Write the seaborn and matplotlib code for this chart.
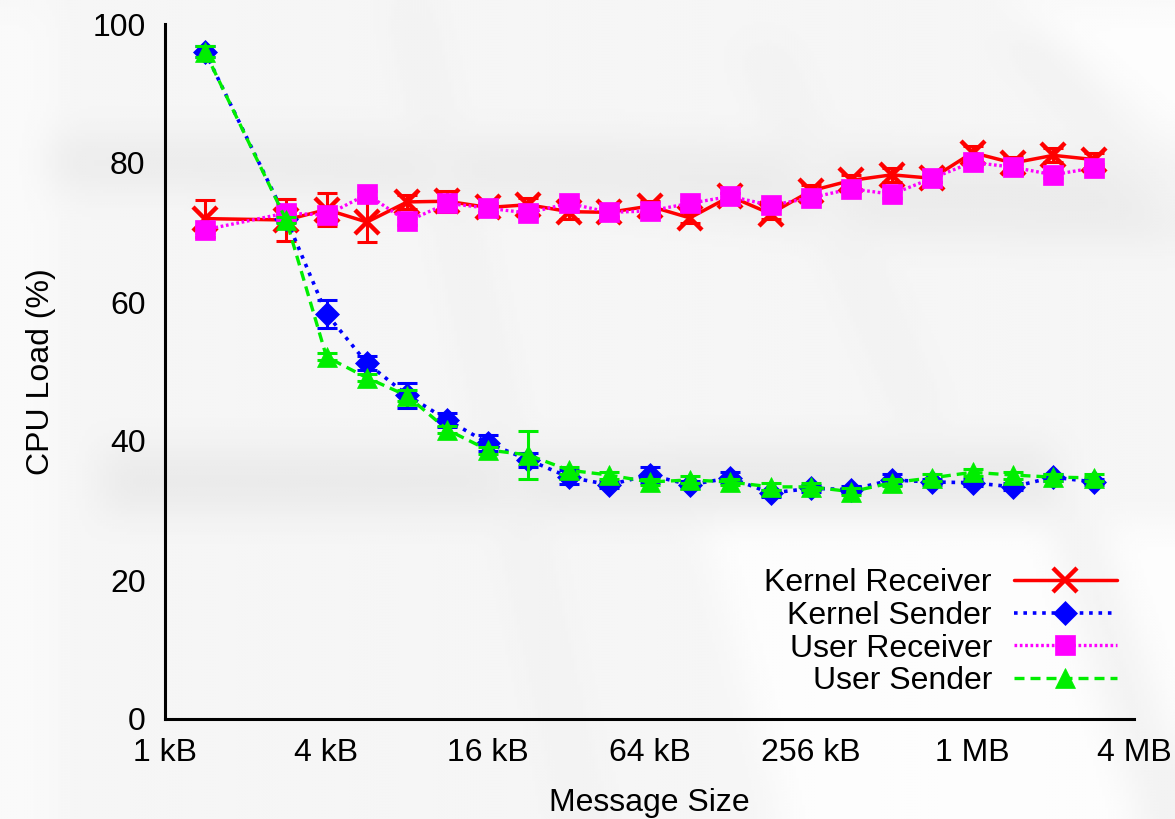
import numpy as np
import matplotlib
matplotlib.use('Agg')
import matplotlib.pyplot as plt
import seaborn as sns
from matplotlib.lines import Line2D
from matplotlib.path import Path

# message sizes in kB (points sit on half powers of two)
size_kb = [1.41, 2.83, 4, 5.66, 8, 11.3, 16, 22.6, 32, 45.3, 64, 90.5,
           128, 181, 256, 362, 512, 724, 1024, 1448, 2048, 2896]

kernel_recv = [72.0, 71.8, 73.3, 71.5, 74.4, 74.5, 73.6, 74.0, 73.0, 72.9, 73.8, 72.1,
               75.2, 72.7, 76.0, 77.5, 78.3, 77.8, 81.5, 80.0, 81.1, 80.5]
kernel_recv_err = [2.7, 3.0, 2.4, 2.9, 1.0, 1.5, 0.6, 1.0, 1.0, 0.6, 0.8, 0.8,
                   0.5, 0.8, 0.8, 0.8, 1.0, 0.5, 1.0, 0.8, 1.0, 1.0]

kernel_send = [96.0, 72.0, 58.3, 51.2, 46.6, 43.0, 39.7, 37.3, 34.8, 33.7, 35.1, 33.7,
               34.7, 32.5, 33.2, 33.0, 34.4, 34.1, 34.0, 33.4, 34.8, 34.1]
kernel_send_err = [0.8, 0.5, 2.0, 1.0, 1.8, 1.0, 1.2, 1.0, 1.0, 0.5, 1.2, 0.5,
                   0.8, 0.5, 0.5, 0.5, 0.8, 0.5, 0.5, 0.5, 0.5, 0.5]

user_recv = [70.4, 72.8, 72.5, 75.5, 71.6, 74.2, 73.5, 72.8, 74.2, 72.9, 73.1, 74.2,
             75.2, 73.9, 75.0, 76.3, 75.5, 77.8, 80.1, 79.4, 78.3, 79.3]
user_recv_err = [0.5] * 22

user_send = [96.0, 71.8, 52.1, 49.1, 46.5, 41.6, 38.7, 38.0, 35.8, 35.1, 34.1, 34.4,
             34.1, 33.4, 33.4, 32.7, 34.0, 34.7, 35.5, 35.1, 34.8, 34.7]
user_send_err = [0.8, 0.5, 0.5, 0.5, 0.8, 0.5, 0.5, 3.5, 0.5, 0.5, 0.5, 0.5,
                 0.5, 0.5, 0.5, 0.5, 0.5, 0.5, 0.5, 0.5, 0.5, 0.5]

tick_kb = [1, 4, 16, 64, 256, 1024, 4096]
tick_labels = ['1 kB', '4 kB', '16 kB', '64 kB', '256 kB', '1 MB', '4 MB']

sns.set_style("white")
plt.rcParams['font.family'] = ['Liberation Sans', 'DejaVu Sans']
plt.rcParams['text.color'] = 'black'
plt.rcParams['axes.labelcolor'] = 'black'

W, H = 1175, 819
fig = plt.figure(figsize=(W / 100, H / 100), dpi=100)

# --- soft grey backdrop (the watermark-like shapes behind the plot) ---
step = 3
yy, xx = np.mgrid[0:H:step, 0:W:step]
pts = np.column_stack([xx.ravel(), yy.ravel()])
bg = np.full(xx.shape, 0.962)


def shade(poly, level):
    m = Path(poly).contains_points(pts).reshape(xx.shape)
    bg[m] = level


shade([(0, 0), (55, 0), (55, 819), (0, 819)], 0.978)
shade([(990, 0), (1175, 0), (1175, 140), (1060, 40)], 0.99)
shade([(700, 520), (1175, 520), (1175, 819), (780, 819)], 0.99)
shade([(50, 135), (600, 140), (1160, 160), (1175, 240), (900, 235), (600, 200), (50, 185)], 0.925)
shade([(100, 450), (1050, 445), (1060, 510), (100, 510)], 0.92)
shade([(395, 0), (420, 0), (595, 819), (570, 819)], 0.94)
shade([(740, 45), (780, 45), (940, 420), (905, 420)], 0.945)
shade([(995, 30), (1035, 30), (1175, 205), (1175, 240)], 0.945)
shade([(1050, 520), (1095, 520), (1175, 760), (1175, 819), (1140, 819)], 0.95)

k = 13
kern = np.ones(k) / k
for _ in range(2):
    p = np.pad(bg, ((0, 0), (k // 2, k // 2)), mode='edge')
    bg = np.apply_along_axis(lambda r: np.convolve(r, kern, mode='valid'), 1, p)
    p = np.pad(bg, ((k // 2, k // 2), (0, 0)), mode='edge')
    bg = np.apply_along_axis(lambda c: np.convolve(c, kern, mode='valid'), 0, p)

ax_bg = fig.add_axes([0, 0, 1, 1], zorder=0)
ax_bg.imshow(bg, cmap='gray', vmin=0, vmax=1, extent=(0, W, H, 0),
             aspect='auto', interpolation='bilinear')
ax_bg.axis('off')

# --- main plot ---
left, right, bottom, top = 165 / W, 1134 / W, 1 - 719 / H, 1 - 24 / H
ax = fig.add_axes([left, bottom, right - left, top - bottom], zorder=1)
ax.patch.set_visible(False)

series = [
    ('Kernel Receiver', kernel_recv, kernel_recv_err, '#ff0000', '-', 'x', 17, 2.5),
    ('Kernel Sender', kernel_send, kernel_send_err, '#0000ff', (0, (1, 1.6)), 'D', 12, 2.6),
    ('User Receiver', user_recv, user_recv_err, '#ff00ff', (0, (0.8, 0.8)), 's', 15, 2.4),
    ('User Sender', user_send, user_send_err, '#00ee00', (0, (3, 1.8)), '^', 15, 2.4),
]

handles = []
for name, vals, err, col, ls, mk, ms, lw in series:
    ax.errorbar(size_kb, vals, yerr=err, fmt='none', ecolor=col, elinewidth=2.2,
                capsize=7, capthick=2.2)
    sns.lineplot(x=size_kb, y=vals, ax=ax, color=col, linestyle=ls, linewidth=lw,
                 marker=mk, markersize=ms, markeredgecolor=col,
                 markeredgewidth=3.2 if mk == 'x' else 0.5, errorbar=None, sort=False)
    handles.append(Line2D([], [], color=col, linestyle=ls, linewidth=lw, marker=mk,
                          markersize=ms, markeredgecolor=col,
                          markeredgewidth=3.2 if mk == 'x' else 0.5, label=name))

ax.set_xscale('log', base=2)
ax.set_xlim(1, 4096)
ax.set_ylim(0, 100)
ax.set_xticks(tick_kb)
ax.set_xticklabels(tick_labels)
ax.minorticks_off()
ax.set_yticks([0, 20, 40, 60, 80, 100])

for s in ['top', 'right']:
    ax.spines[s].set_visible(False)
for s in ['left', 'bottom']:
    ax.spines[s].set_linewidth(2.2)
    ax.spines[s].set_color('black')
ax.tick_params(axis='both', direction='in', length=8, width=2.2,
               labelsize=23, colors='black')
ax.tick_params(axis='y', pad=14)
ax.tick_params(axis='x', pad=14)

ax.set_xlabel('Message Size', fontsize=23, labelpad=14, color='black')
ax.set_ylabel('CPU Load (%)', fontsize=23, labelpad=26, color='black')

leg = ax.legend(handles=handles, loc='lower right', bbox_to_anchor=(0.982, 0.033),
                frameon=False, markerfirst=False, fontsize=23, handlelength=3.2,
                handletextpad=0.7, labelspacing=0.08, borderpad=0, borderaxespad=0)
for t in leg.get_texts():
    t.set_color('black')

fig.savefig('out.png', dpi=100)
